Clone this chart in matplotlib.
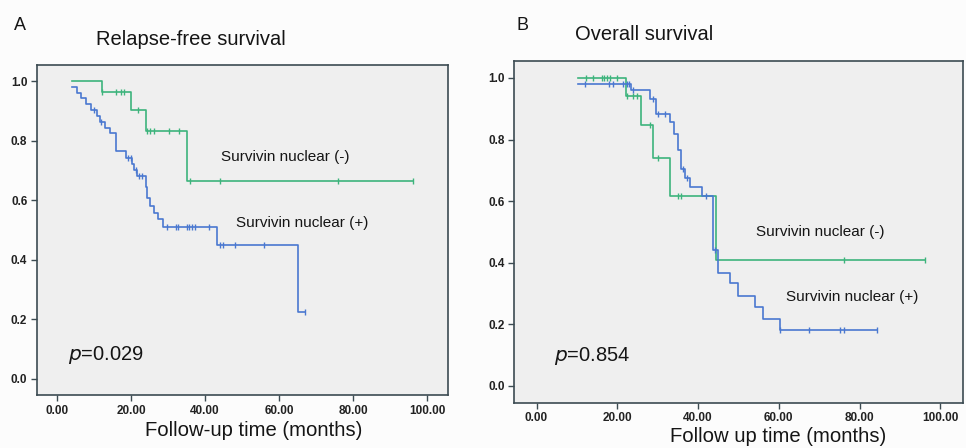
import numpy as np
import matplotlib
matplotlib.use("Agg")
import matplotlib.pyplot as plt

plt.rcParams["font.family"] = ["Liberation Sans", "DejaVu Sans"]

# Relapse-free survival, survivin nuclear (-): step times / survival
rfs_neg_t = [4.0, 12.2, 19.9, 23.9, 35.1, 96.2]
rfs_neg_s = [1.0, 0.962, 0.903, 0.834, 0.666, 0.666]
rfs_neg_cens = [12.2, 16.0, 17.1, 18.0, 21.9, 24.2, 25.2, 26.1, 30.1, 33.0,
                36.0, 44.0, 76.0, 96.2]

# Relapse-free survival, survivin nuclear (+)
rfs_pos_t = [4.0, 5.2, 6.5, 7.8, 9.0, 10.6, 11.5, 12.9, 14.2, 16.0, 18.5,
             20.3, 20.7, 21.6, 23.9, 24.3, 25.2, 26.2, 27.3, 28.7, 43.1,
             65.1, 66.9]
rfs_pos_s = [0.981, 0.961, 0.942, 0.922, 0.903, 0.883, 0.864, 0.844, 0.825,
             0.765, 0.743, 0.722, 0.703, 0.682, 0.645, 0.606, 0.58, 0.556,
             0.536, 0.511, 0.45, 0.225, 0.225]
rfs_pos_cens = [10.0, 11.8, 19.2, 20.0, 21.2, 22.0, 23.0, 29.7, 32.1, 32.7,
                35.0, 35.7, 36.5, 37.2, 41.1, 44.0, 44.7, 48.0, 55.9, 66.9]

# Overall survival, survivin nuclear (-)
os_neg_t = [10.3, 22.1, 26.0, 28.9, 33.1, 44.4, 96.3]
os_neg_s = [1.0, 0.940, 0.846, 0.741, 0.616, 0.410, 0.410]
os_neg_cens = [12.2, 14.0, 16.1, 16.8, 17.5, 18.2, 20.0, 22.3, 24.0, 24.8,
               28.1, 30.0, 35.0, 35.8, 76.2, 96.3]

# Overall survival, survivin nuclear (+)
os_pos_t = [10.2, 23.5, 28.1, 29.7, 33.1, 34.1, 35.1, 35.9, 36.8, 38.0,
            40.9, 43.8, 44.9, 47.9, 50.0, 54.1, 56.2, 60.2, 84.3]
os_pos_s = [0.981, 0.962, 0.933, 0.884, 0.857, 0.819, 0.765, 0.705, 0.675,
            0.645, 0.615, 0.44, 0.367, 0.335, 0.293, 0.256, 0.218, 0.182,
            0.182]
os_pos_cens = [12.0, 18.0, 19.0, 21.5, 22.3, 22.9, 24.0, 28.8, 30.0, 31.8,
               36.2, 37.2, 42.0, 44.2, 60.2, 67.4, 75.2, 76.2, 84.3]

xticks = [0, 20, 40, 60, 80, 100]
yticks = [0.0, 0.2, 0.4, 0.6, 0.8, 1.0]

GREEN = "#3db47c"
BLUE = "#4a78d0"
FRAME = "#3c4b52"
TXT = "#151515"


def km(ax, t, s, cens, color):
    t = np.asarray(t)
    s = np.asarray(s)
    ax.step(t, s, where="post", color=color, lw=1.2, zorder=3)
    c = np.asarray(cens)
    idx = np.searchsorted(t, c, side="right") - 1
    ax.plot(c, s[idx], ls="none", marker="|", ms=5, mew=1.0, color=color,
            zorder=4)


def style(ax):
    ax.set_facecolor("#efefef")
    ax.set_xlim(-5.5, 105.7)
    ax.set_ylim(-0.055, 1.055)
    ax.set_xticks(xticks)
    ax.set_xticklabels(["%.2f" % v for v in xticks])
    ax.set_yticks(yticks)
    ax.set_yticklabels(["%.1f" % v for v in yticks])
    ax.tick_params(direction="out", length=4, width=1, color=FRAME,
                   labelsize=8.5, labelcolor="#222222", pad=3)
    for lab in ax.get_xticklabels() + ax.get_yticklabels():
        lab.set_fontweight("bold")
    for sp in ax.spines.values():
        sp.set_color(FRAME)
        sp.set_linewidth(1.2)


fig = plt.figure(figsize=(9.66, 4.48), dpi=100)
fig.patch.set_facecolor("#fcfcfc")

axA = fig.add_axes([0.0383, 0.1183, 0.4255, 0.737])
style(axA)
km(axA, rfs_neg_t, rfs_neg_s, rfs_neg_cens, GREEN)
km(axA, rfs_pos_t, rfs_pos_s, rfs_pos_cens, BLUE)
axA.text(44.2, 0.746, "Survivin nuclear (-)", fontsize=11, va="center",
         color=TXT)
axA.text(48.3, 0.522, "Survivin nuclear (+)", fontsize=11, va="center",
         color=TXT)
axA.text(2.9, 0.08, r"$\it{p}$=0.029", fontsize=14.5, va="center",
         color=TXT)

axB = fig.add_axes([0.5324, 0.101, 0.4648, 0.7628])
style(axB)
km(axB, os_neg_t, os_neg_s, os_neg_cens, GREEN)
km(axB, os_pos_t, os_pos_s, os_pos_cens, BLUE)
axB.text(54.4, 0.501, "Survivin nuclear (-)", fontsize=11, va="center",
         color=TXT)
axB.text(61.8, 0.290, "Survivin nuclear (+)", fontsize=11, va="center",
         color=TXT)
axB.text(4.3, 0.098, r"$\it{p}$=0.854", fontsize=14.5, va="center",
         color=TXT)

fig.text(0.0207, 0.942, "A", fontsize=13, ha="center", va="center", color=TXT)
fig.text(0.0994, 0.911, "Relapse-free survival", fontsize=14.5, va="center",
         color=TXT)
fig.text(0.5414, 0.944, "B", fontsize=13, ha="center", va="center", color=TXT)
fig.text(0.5952, 0.922, "Overall survival", fontsize=14.5, va="center",
         color=TXT)
fig.text(0.263, 0.040, "Follow-up time (months)", fontsize=14.6,
         ha="center", va="center", color=TXT)
fig.text(0.805, 0.0246, "Follow up time (months)", fontsize=14.6,
         ha="center", va="center", color=TXT)

fig.savefig("out.png", dpi=100, facecolor=fig.get_facecolor())
